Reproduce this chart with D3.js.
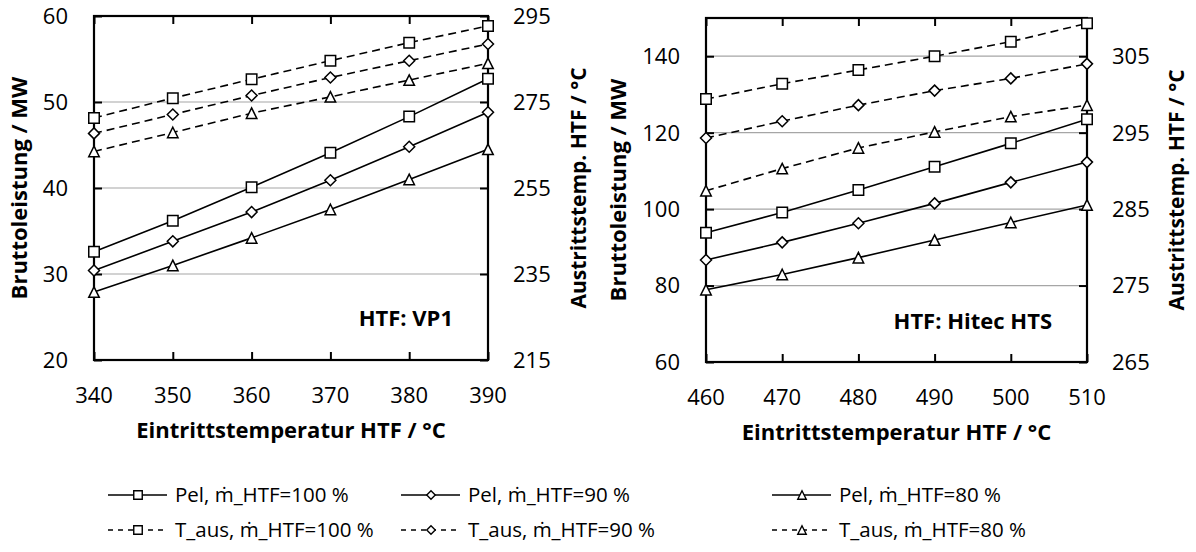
<!DOCTYPE html>
<html>
<head>
<meta charset="utf-8">
<script src="https://cdn.jsdelivr.net/npm/d3@7"></script>
<style>
  body { margin: 0; background: #fff; }
  svg text { font-family: 'Open Sans', 'Noto Sans', sans-serif; fill: #000; }
</style>
</head>
<body>
<svg id="chart" width="1196" height="552"></svg>
<script>
// ---- data: VP1 ----
const vp1Temps   = [340, 350, 360, 370, 380, 390];
const vp1Pel100  = [32.6, 36.2, 40.1, 44.1, 48.3, 52.7];
const vp1Pel90   = [30.4, 33.8, 37.2, 40.9, 44.8, 48.8];
const vp1Pel80   = [27.9, 31.0, 34.2, 37.5, 41.0, 44.5];
const vp1Taus100 = [271.3, 275.9, 280.3, 284.6, 288.8, 292.7];
const vp1Taus90  = [267.7, 272.1, 276.5, 280.7, 284.6, 288.5];
const vp1Taus80  = [263.5, 267.9, 272.4, 276.2, 280.1, 284.0];
const vp1LeftTicks  = [20, 30, 40, 50, 60];
const vp1RightTicks = [215, 235, 255, 275, 295];

// ---- data: Hitec HTS ----
const htsTemps   = [460, 470, 480, 490, 500, 510];
const htsPel100  = [93.8, 99.1, 105.0, 111.1, 117.2, 123.5];
const htsPel90   = [86.7, 91.3, 96.3, 101.5, 107.0, 112.3];
const htsPel80   = [78.9, 82.9, 87.3, 91.9, 96.5, 101.1];
const htsTaus100 = [299.4, 301.4, 303.2, 305.0, 306.9, 309.3];
const htsTaus90  = [294.3, 296.5, 298.6, 300.5, 302.1, 304.0];
const htsTaus80  = [287.4, 290.3, 293.0, 295.1, 297.1, 298.6];
const htsLeftTicks  = [60, 80, 100, 120, 140];
const htsRightTicks = [265, 275, 285, 295, 305];

// ---- legend ----
const legendLabels = [
  "Pel, ṁ_HTF=100 %", "Pel, ṁ_HTF=90 %", "Pel, ṁ_HTF=80 %",
  "T_aus, ṁ_HTF=100 %", "T_aus, ṁ_HTF=90 %", "T_aus, ṁ_HTF=80 %"
];
const markerKinds = ["square", "diamond", "triangle"];

const svg = d3.select("#chart");

function markerPath(kind, s) {
  const h = s / 2;
  if (kind === "square") return `M${-h},${-h}H${h}V${h}H${-h}Z`;
  if (kind === "diamond") return `M0,${-h}L${h},0L0,${h}L${-h},0Z`;
  return `M0,${-h}L${h},${h}L${-h},${h}Z`;
}

function drawPanel(p) {
  const g = svg.append("g");
  const x = d3.scaleLinear().domain(p.xDomain).range([p.left, p.right]);
  const yL = d3.scaleLinear().domain(p.leftDomain).range([p.bottom, p.top]);
  const yR = d3.scaleLinear().domain(p.rightDomain).range([p.bottom, p.top]);

  // horizontal gridlines
  g.append("g").selectAll("line")
    .data(p.leftTicks.filter(t => t > p.leftDomain[0] && t < p.leftDomain[1]))
    .join("line")
    .attr("x1", p.left).attr("x2", p.right)
    .attr("y1", d => yL(d)).attr("y2", d => yL(d))
    .attr("stroke", "#a6a6a6").attr("stroke-width", 1.2);

  // axes with inward ticks
  const axB = g.append("g").attr("transform", `translate(0,${p.bottom})`)
    .call(d3.axisTop(x).tickValues(p.xValues).tickSize(8).tickFormat(""));
  const axT = g.append("g").attr("transform", `translate(0,${p.top})`)
    .call(d3.axisBottom(x).tickValues(p.xValues).tickSize(8).tickFormat(""));
  const axL = g.append("g").attr("transform", `translate(${p.left},0)`)
    .call(d3.axisRight(yL).tickValues(p.leftTicks).tickSize(8).tickFormat(""));
  const axR = g.append("g").attr("transform", `translate(${p.right},0)`)
    .call(d3.axisLeft(yR).tickValues(p.rightTicks).tickSize(8).tickFormat(""));
  [axB, axT, axL, axR].forEach(a => {
    a.select(".domain").remove();
    a.selectAll("line").attr("stroke", "#000").attr("stroke-width", 2);
  });

  // frame
  g.append("rect")
    .attr("x", p.left).attr("y", p.top)
    .attr("width", p.right - p.left).attr("height", p.bottom - p.top)
    .attr("fill", "none").attr("stroke", "#000").attr("stroke-width", 2.2);

  // tick labels
  g.append("g").selectAll("text").data(p.xValues).join("text")
    .attr("x", d => x(d)).attr("y", p.bottom + 43)
    .attr("text-anchor", "middle").style("font-size", "22px").text(d => d);
  g.append("g").selectAll("text").data(p.leftTicks).join("text")
    .attr("x", p.left - 26).attr("y", d => yL(d)).attr("dy", "0.36em")
    .attr("text-anchor", "end").style("font-size", "22px").text(d => d);
  g.append("g").selectAll("text").data(p.rightTicks).join("text")
    .attr("x", p.right + 25).attr("y", d => yR(d)).attr("dy", "0.36em")
    .attr("text-anchor", "start").style("font-size", "22px").text(d => d);

  // axis titles
  const midY = (p.top + p.bottom) / 2;
  g.append("text")
    .attr("transform", `translate(${p.leftTitleX},${midY}) rotate(-90)`)
    .attr("text-anchor", "middle").style("font-size", "22px").style("font-weight", "bold")
    .text("Bruttoleistung / MW");
  g.append("text")
    .attr("transform", `translate(${p.rightTitleX},${midY}) rotate(-90)`)
    .attr("text-anchor", "middle").style("font-size", "21px").style("font-weight", "bold")
    .text("Austrittstemp. HTF / °C");
  g.append("text")
    .attr("x", (p.left + p.right) / 2).attr("y", p.bottom + 78)
    .attr("text-anchor", "middle").style("font-size", "22px").style("font-weight", "bold")
    .text("Eintrittstemperatur HTF / °C");

  // fluid label
  g.append("text")
    .attr("x", p.labelX).attr("y", p.labelY)
    .attr("text-anchor", "end").style("font-size", "22px").style("font-weight", "bold")
    .text(p.label);

  // series
  const lineL = d3.line().x((d, i) => x(p.xValues[i])).y(d => yL(d));
  const lineR = d3.line().x((d, i) => x(p.xValues[i])).y(d => yR(d));
  const series = [];
  p.taus.forEach((vals, k) => series.push({ vals, y: yR, gen: lineR, dash: "8,5", kind: markerKinds[k] }));
  p.pel.forEach((vals, k) => series.push({ vals, y: yL, gen: lineL, dash: null, kind: markerKinds[k] }));

  series.forEach(s => {
    g.append("path").datum(s.vals)
      .attr("d", s.gen).attr("fill", "none").attr("stroke", "#000")
      .attr("stroke-width", 1.6).attr("stroke-dasharray", s.dash);
    g.append("g").selectAll("path").data(s.vals).join("path")
      .attr("transform", (d, i) => `translate(${x(p.xValues[i])},${s.y(d)})`)
      .attr("d", markerPath(s.kind, s.kind === "diamond" ? 11 : 10.5))
      .attr("fill", "#fff").attr("stroke", "#000").attr("stroke-width", 1.5);
  });
}

drawPanel({
  left: 94, right: 488, top: 16, bottom: 360,
  xDomain: [340, 390], xValues: vp1Temps,
  leftDomain: [20, 60], rightDomain: [215, 295],
  leftTicks: vp1LeftTicks, rightTicks: vp1RightTicks,
  pel: [vp1Pel100, vp1Pel90, vp1Pel80],
  taus: [vp1Taus100, vp1Taus90, vp1Taus80],
  leftTitleX: 27, rightTitleX: 586,
  label: "HTF: VP1", labelX: 453, labelY: 326
});

drawPanel({
  left: 706, right: 1087, top: 18, bottom: 362,
  xDomain: [460, 510], xValues: htsTemps,
  leftDomain: [60, 150], rightDomain: [265, 310],
  leftTicks: htsLeftTicks, rightTicks: htsRightTicks,
  pel: [htsPel100, htsPel90, htsPel80],
  taus: [htsTaus100, htsTaus90, htsTaus80],
  leftTitleX: 626, rightTitleX: 1184,
  label: "HTF: Hitec HTS", labelX: 1052, labelY: 329
});

// legend
const legCols = [108, 401, 772];
const legRows = [495, 530];
const leg = svg.append("g");
legendLabels.forEach((lab, i) => {
  const col = i % 3, row = Math.floor(i / 3);
  const x0 = legCols[col], y0 = legRows[row];
  leg.append("line")
    .attr("x1", x0).attr("x2", x0 + 59).attr("y1", y0).attr("y2", y0)
    .attr("stroke", "#000").attr("stroke-width", 1.6)
    .attr("stroke-dasharray", row === 1 ? "5,5" : null);
  leg.append("path")
    .attr("transform", `translate(${x0 + 30},${y0})`)
    .attr("d", markerPath(markerKinds[col], 8.5))
    .attr("fill", "#fff").attr("stroke", "#000").attr("stroke-width", 1.4);
  leg.append("text")
    .attr("x", x0 + 67).attr("y", y0).attr("dy", "0.36em")
    .style("font-size", "20.5px").text(lab);
});
</script>
</body>
</html>
